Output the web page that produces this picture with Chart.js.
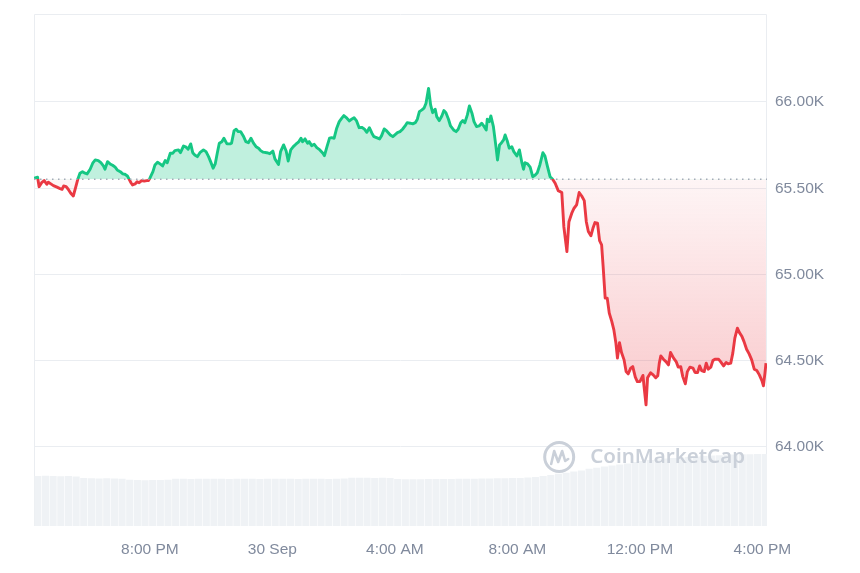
<!DOCTYPE html>
<html>
<head>
<meta charset="utf-8">
<script src="https://cdn.jsdelivr.net/npm/chart.js@4.4.1/dist/chart.umd.min.js"></script>
<style>
html,body{margin:0;padding:0;background:#ffffff;}
#wrap{width:860px;height:573px;position:relative;}
</style>
</head>
<body>
<div id="wrap"><canvas id="c" width="860" height="573"></canvas></div>
<script>
// ---- DATA ----
// minutes since 29 Sep 16:00
const timeMinutes = [
13,20,23,28,33,38,41,46,51,58,64,68,71,76,80,85,90,95,99,103,108,113,117,123,128,133,139,144,149,152,
157,162,167,172,176,182,187,191,196,199,203,206,211,215,219,224,229,234,237,240,246,250,255,260,265,270,274,280,285,289,
296,300,306,311,315,320,324,328,333,338,345,350,355,359,364,368,372,376,381,385,391,397,400,405,409,413,418,423,428,433,
438,443,448,453,457,462,469,475,481,485,492,496,502,507,511,516,521,526,531,536,539,544,549,552,557,562,567,573,579,582,
587,592,596,601,606,611,616,620,626,631,636,640,645,650,655,660,665,670,675,679,684,690,694,699,704,711,716,720,725,730,
735,740,744,750,755,760,764,768,773,777,781,786,790,794,799,802,807,812,816,820,825,829,835,840,844,849,853,857,862,866,
871,875,880,885,890,895,899,901,905,908,913,918,921,925,929,933,936,940,944,949,953,959,964,969,972,975,980,985,990,995,
999,1004,1010,1014,1019,1024,1029,1034,1040,1047,1051,1057,1061,1067,1071,1076,1081,1086,1091,1095,1099,1104,1108,1112,1117,1121,1125,1128,1132,1136,
1140,1145,1149,1153,1156,1160,1164,1169,1173,1177,1182,1186,1191,1195,1200,1206,1208,1212,1215,1221,1226,1231,1235,1238,1241,1246,1251,1256,1260,1266,
1271,1275,1280,1284,1289,1293,1298,1304,1308,1313,1317,1321,1326,1330,1334,1339,1343,1347,1354,1358,1364,1369,1373,1378,1382,1386,1391,1395,1400,1404,
1409,1414,1419,1424,1429,1434,1439,1442,1445,1447
];
const prices = [
65558,65564,65509,65532,65544,65523,65535,65525,65515,65506,65498,65494,65513,65509,65494,65471,65455,65509,65554,65587,65596,65587,65583,65610,65645,65664,65660,65648,65629,65610,
65654,65641,65633,65622,65606,65596,65583,65581,65571,65554,65532,65519,65525,65538,65532,65544,65541,65544,65544,65558,65596,65635,65651,65641,65629,65660,65648,65703,65703,65718,
65722,65706,65745,65738,65726,65757,65706,65693,65683,65706,65722,65712,65683,65654,65616,65641,65703,65761,65770,65790,65757,65757,65761,65834,65842,65828,65828,65803,65770,65764,
65790,65761,65741,65732,65718,65709,65706,65700,65715,65670,65638,65712,65751,65716,65658,65722,65741,65755,65767,65790,65770,65786,65761,65770,65747,65755,65735,65722,65703,65689,
65741,65790,65793,65790,65848,65886,65906,65921,65906,65890,65902,65909,65890,65851,65853,65844,65824,65851,65819,65799,65793,65786,65805,65844,65832,65809,65799,65809,65822,65828,
65842,65861,65880,65877,65873,65880,65900,65944,65954,65964,65993,66079,65983,65938,65958,65915,65892,65919,65950,65938,65900,65861,65838,65828,65842,65880,65892,65880,65925,65977,
65935,65886,65857,65861,65877,65857,65838,65900,65886,65919,65857,65741,65664,65751,65764,65780,65809,65776,65732,65741,65712,65687,65722,65645,65610,65648,65641,65622,65567,65577,
65590,65635,65706,65687,65625,65567,65552,65529,65486,65475,65277,65133,65306,65359,65384,65403,65475,65455,65428,65306,65249,65224,65268,65301,65297,65196,65172,65046,64863,64863,
64776,64727,64679,64602,64515,64605,64548,64505,64437,64424,64457,64466,64405,64379,64379,64415,64355,64244,64401,64430,64418,64401,64413,64486,64528,64509,64495,64476,64548,64515,
64495,64463,64466,64408,64366,64437,64463,64457,64432,64432,64470,64443,64437,64486,64451,64463,64501,64509,64509,64495,64470,64490,64482,64486,64544,64631,64689,64663,64640,64611,
64567,64540,64505,64451,64443,64418,64385,64355,64428,64486
];
const openPrice = 65552;

// x-axis range and tick labels (minutes since 29 Sep 16:00)
const xRange = [13, 1449];
const xTickMinutes = [240, 480, 720, 960, 1200, 1440];
const xTickLabels = ['8:00 PM', '30 Sep', '4:00 AM', '8:00 AM', '12:00 PM', '4:00 PM'];

// y-axis
const yRange = [63542, 66510];
const yTickValues = [64000, 64500, 65000, 65500, 66000];

// 24h volume (billions USD), 15-minute buckets
const volumeBucketStart = 13;
const volumeBucketMinutes = 15;
const volumes = [
20.0,20.1,20.0,19.9,20.0,19.8, 19.2,19.1,19.0,19.1,19.0,18.9,
18.5,18.4,18.3,18.4,18.4,18.5, 18.9,18.9,18.8,18.9,18.9,18.9,
18.9,18.8,18.9,18.9,18.9,18.8, 18.9,18.9,18.9,18.9,18.8,18.9,
18.9,18.9,18.8,18.9,19.0,19.3, 19.3,19.3,19.2,19.3,19.2,18.8,
18.7,18.7,18.7,18.8,18.8,18.8, 18.8,18.9,18.9,18.9,19.0,19.0,
19.1,19.1,19.2,19.2,19.4,19.6, 20.0,20.4,20.9,21.3,21.8,22.2,
22.9,23.3,23.8,24.2,24.6,25.0, 25.6,26.0,26.4,26.7,27.0,27.2,
27.4,27.6,27.8,28.0,28.2,28.3, 28.5,28.6,28.7,28.7,28.8,28.8
];
const volumeAxisMax = 204.8;

// ---- CHART ----
const GREEN = '#16c784';
const RED = '#ea3943';
const TEXT = '#808a9d';
const GRID = '#eaedf1';
const FONT = '"Liberation Sans", Arial, Helvetica, sans-serif';

function lineStroke(chart) {
  const {ctx, chartArea, scales} = chart;
  if (!chartArea) return GREEN;
  const y0 = scales.y.getPixelForValue(openPrice);
  const f = Math.min(1, Math.max(0, (y0 - chartArea.top) / (chartArea.bottom - chartArea.top)));
  const g = ctx.createLinearGradient(0, chartArea.top, 0, chartArea.bottom);
  g.addColorStop(0, GREEN); g.addColorStop(f, GREEN);
  g.addColorStop(f, RED); g.addColorStop(1, RED);
  return g;
}
function redFill(chart) {
  const {ctx, chartArea, scales} = chart;
  if (!chartArea) return 'rgba(234,57,67,0.12)';
  const y0 = scales.y.getPixelForValue(openPrice);
  const y1 = scales.y.getPixelForValue(Math.min(...prices));
  const g = ctx.createLinearGradient(0, y0, 0, y1);
  g.addColorStop(0, 'rgba(234,57,67,0.05)');
  g.addColorStop(1, 'rgba(234,57,67,0.27)');
  return g;
}

const framePlugin = {
  id: 'frame',
  beforeDatasetsDraw(chart) {
    const {ctx, chartArea: a} = chart;
    ctx.save();
    ctx.strokeStyle = GRID;
    ctx.lineWidth = 1;
    ctx.beginPath();
    ctx.moveTo(a.left + 0.5, a.bottom);
    ctx.lineTo(a.left + 0.5, a.top + 0.5);
    ctx.lineTo(a.right - 0.5, a.top + 0.5);
    ctx.lineTo(a.right - 0.5, a.bottom);
    ctx.stroke();
    ctx.restore();
  }
};

const watermarkPlugin = {
  id: 'watermark',
  afterDatasetsDraw(chart) {
    const {ctx, chartArea: a} = chart;
    const col = '#cad0d9';
    ctx.save();
    ctx.fillStyle = col;
    ctx.font = '600 20.5px "Noto Sans", "Liberation Sans", sans-serif';
    ctx.textAlign = 'right';
    ctx.textBaseline = 'middle';
    const tx = a.right - 22, ty = a.bottom - 69;
    ctx.fillText('CoinMarketCap', tx, ty);
    const w = ctx.measureText('CoinMarketCap').width;
    const cx = tx - w - 31, cy = ty;
    ctx.strokeStyle = col;
    ctx.lineWidth = 3;
    ctx.lineJoin = 'round';
    ctx.lineCap = 'round';
    ctx.beginPath();
    ctx.arc(cx, cy, 14.5, 0, Math.PI * 2);
    ctx.stroke();
    ctx.lineWidth = 2.6;
    ctx.beginPath();
    ctx.moveTo(cx - 8, cy + 7);
    ctx.lineTo(cx - 5, cy - 6);
    ctx.lineTo(cx - 1, cy + 5);
    ctx.lineTo(cx + 3, cy - 6);
    ctx.lineTo(cx + 6, cy + 4);
    ctx.lineTo(cx + 9, cy + 2);
    ctx.stroke();
    ctx.restore();
  }
};

const priceData = timeMinutes.map((t, i) => ({x: t, y: prices[i]}));
const volumeData = volumes.map((v, i) => ({x: volumeBucketStart + volumeBucketMinutes * (i + 0.5), y: v}));
const baselineData = xRange.map(t => ({x: t, y: openPrice}));

function noPad(axis) {
  axis.paddingTop = 0; axis.paddingBottom = 0;
  axis.paddingLeft = 0; axis.paddingRight = 0;
}

new Chart(document.getElementById('c'), {
  type: 'line',
  data: {
    datasets: [
      {
        label: 'Price',
        data: priceData,
        borderColor: (c) => lineStroke(c.chart),
        borderWidth: 2.9,
        borderJoinStyle: 'round',
        pointRadius: 0,
        tension: 0,
        fill: (c) => ({value: openPrice, above: 'rgba(22,199,132,0.27)', below: redFill(c.chart)}),
        order: 1
      },
      {
        label: 'Open',
        data: baselineData,
        borderColor: '#a3abb8',
        borderWidth: 1.4,
        borderDash: [1.5, 4.5],
        pointRadius: 0,
        fill: false,
        order: 0
      },
      {
        type: 'bar',
        label: 'Volume',
        data: volumeData,
        yAxisID: 'yv',
        backgroundColor: '#eff2f5',
        barPercentage: 1,
        categoryPercentage: 0.93,
        grouped: false,
        order: 3
      }
    ]
  },
  options: {
    responsive: false,
    devicePixelRatio: 1,
    animation: false,
    layout: {padding: {left: 34, top: 14, right: 0, bottom: 0}},
    plugins: {legend: {display: false}, tooltip: {enabled: false}},
    scales: {
      x: {
        type: 'linear',
        min: xRange[0],
        max: xRange[1],
        offset: false,
        grid: {display: false, drawTicks: false},
        border: {display: false},
        afterBuildTicks: (axis) => { axis.ticks = xTickMinutes.map(v => ({value: v})); },
        afterFit: (axis) => { axis.height = 47; noPad(axis); },
        ticks: {
          autoSkip: false,
          maxRotation: 0,
          padding: 14,
          color: TEXT,
          font: {family: FONT, size: 15.5},
          callback: (v, i) => xTickLabels[i]
        }
      },
      y: {
        position: 'right',
        min: yRange[0],
        max: yRange[1],
        grid: {color: GRID, drawTicks: false, lineWidth: 1},
        border: {display: false},
        afterBuildTicks: (axis) => { axis.ticks = yTickValues.map(v => ({value: v})); },
        afterFit: (axis) => { axis.width = 93; noPad(axis); },
        ticks: {
          padding: 8,
          color: TEXT,
          font: {family: FONT, size: 15.5},
          callback: (v) => (v / 1000).toFixed(2) + 'K'
        }
      },
      yv: {
        display: false,
        min: 0,
        max: volumeAxisMax
      }
    }
  },
  plugins: [framePlugin, watermarkPlugin]
});
</script>
</body>
</html>
